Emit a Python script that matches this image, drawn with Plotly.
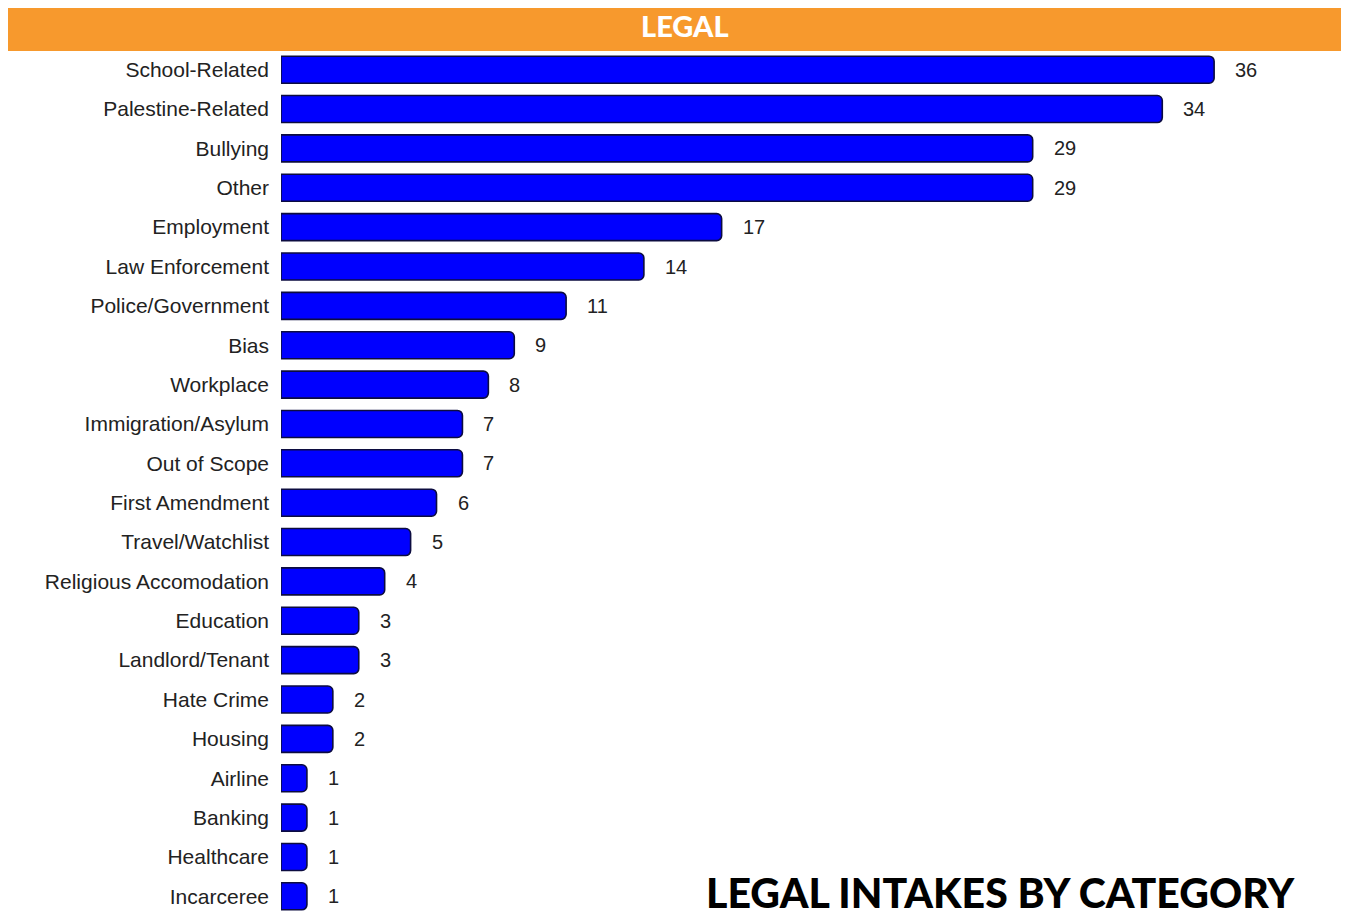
import plotly.graph_objects as go

categories = ["School-Related", "Palestine-Related", "Bullying", "Other", "Employment",
              "Law Enforcement", "Police/Government", "Bias", "Workplace",
              "Immigration/Asylum", "Out of Scope", "First Amendment", "Travel/Watchlist",
              "Religious Accomodation", "Education", "Landlord/Tenant", "Hate Crime",
              "Housing", "Airline", "Banking", "Healthcare", "Incarceree"]
values = [36, 34, 29, 29, 17, 14, 11, 9, 8, 7, 7, 6, 5, 4, 3, 3, 2, 2, 1, 1, 1, 1]

header_text = "LEGAL"
footer_text = "LEGAL INTAKES BY CATEGORY"

# page body has an 8px margin, so the figure is 8px smaller in each direction
W, H = 1341, 909
L, R, T, B = 273, 5, 42, 1
pw, ph = W - L - R, H - T - B

fig = go.Figure()
fig.add_trace(go.Bar(
    x=values, y=categories, orientation="h",
    marker=dict(color="#0000FF", line=dict(color="#0c0c40", width=1.6), cornerradius=5),
    width=0.686,
    hoverinfo="skip",
))

for c, v in zip(categories, values):
    fig.add_annotation(x=v, y=c, xref="x", yref="y", text=str(v), showarrow=False,
                       xanchor="left", xshift=19,
                       font=dict(family="Liberation Sans, Arial, sans-serif", size=20, color="#222222"))

# header band
fig.add_shape(type="rect", xref="paper", yref="paper",
              x0=-L / pw, x1=(W - L) / pw, y0=1 - 1 / ph, y1=1 + T / ph,
              fillcolor="#F7992D", line=dict(width=0), layer="below")
fig.add_annotation(xref="paper", yref="paper", x=(677 - L) / pw, y=1 + (T - 18) / ph,
                   text=header_text, showarrow=False, xanchor="center", yanchor="middle",
                   font=dict(family="Lato, Inter, sans-serif", size=29, weight=900, color="white"))
fig.add_annotation(xref="paper", yref="paper", x=(1289 - L) / pw, y=(H - B - 884) / ph,
                   text=footer_text, showarrow=False, xanchor="right", yanchor="middle",
                   font=dict(family="Lato, Inter, sans-serif", size=41, weight=900, color="black"))

fig.update_layout(
    width=W, height=H,
    margin=dict(l=L, r=R, t=T, b=B, pad=0),
    paper_bgcolor="white", plot_bgcolor="white",
    showlegend=False,
    xaxis=dict(range=[0, pw / 25.92], visible=False, showgrid=False, zeroline=False),
    yaxis=dict(autorange="reversed", showgrid=False, zeroline=False, showline=False,
               ticks="", ticklabelstandoff=11,
               tickfont=dict(family="Liberation Sans, Arial, sans-serif", size=21, color="#222222")),
)

fig.write_html("out.html")
